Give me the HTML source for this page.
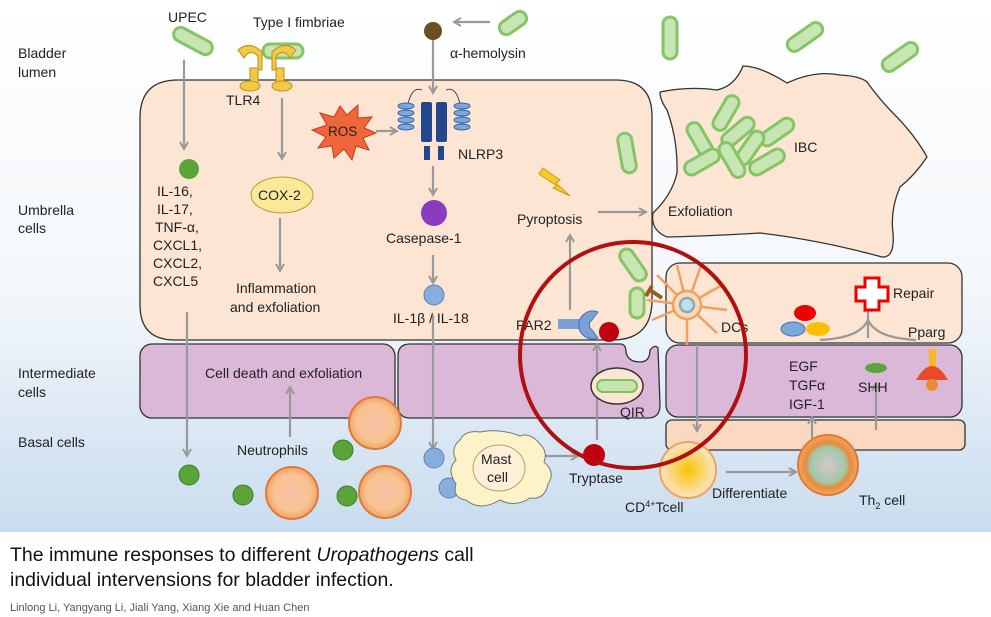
<!DOCTYPE html>
<html><head><meta charset="utf-8"><style>
body{margin:0;width:991px;height:617px;background:#fff;font-family:"Liberation Sans",sans-serif;overflow:hidden}
svg text{font-family:"Liberation Sans",sans-serif;fill:#222}
.cap{position:absolute;left:10px;top:543px;font-size:19.5px;line-height:25px;color:#111}
.auth{position:absolute;left:10px;top:602px;font-size:11px;color:#555}
</style></head><body>
<svg width="991" height="532" viewBox="0 0 991 532" style="position:absolute;left:0;top:0">
<defs>
<linearGradient id="bg" x1="0" y1="0" x2="0" y2="1"><stop offset="0" stop-color="#ffffff"/><stop offset="0.55" stop-color="#f3f7fb"/><stop offset="1" stop-color="#c9dcef"/></linearGradient>
<marker id="ar" markerWidth="10" markerHeight="10" refX="7" refY="5" orient="auto" markerUnits="userSpaceOnUse"><path d="M1,1 L8,5 L1,9" fill="none" stroke="#999" stroke-width="2"/></marker>
<radialGradient id="tc"><stop offset="0" stop-color="#f7c400"/><stop offset="0.6" stop-color="#fbd77a"/><stop offset="1" stop-color="#fce4c4"/></radialGradient>
<radialGradient id="th"><stop offset="0" stop-color="#d9c6c8"/><stop offset="0.6" stop-color="#9fc8a8"/><stop offset="0.75" stop-color="#e88a3a"/><stop offset="1" stop-color="#f2a860"/></radialGradient>
<radialGradient id="neu"><stop offset="0" stop-color="#f7c0a8"/><stop offset="0.7" stop-color="#f8c490"/><stop offset="1" stop-color="#f2a36a"/></radialGradient>
</defs>
<rect width="991" height="532" fill="url(#bg)"/>
<g font-size="14">
<text x="18" y="58">Bladder</text><text x="18" y="77">lumen</text>
<text x="18" y="215">Umbrella</text><text x="18" y="233">cells</text>
<text x="18" y="378">Intermediate</text><text x="18" y="397">cells</text>
<text x="18" y="447">Basal cells</text>
</g>
<path d="M178,80 L616,80 Q652,80 652,116 L652,200 L652,300 Q652,340 612,340 L175,340 Q140,340 140,305 L140,118 Q140,80 178,80Z" fill="#fde5d3" stroke="#333" stroke-width="1.3"/>
<path d="M660,92 Q690,86 717,90 Q735,86 743,66 Q760,66 787,83 Q815,70 840,75 Q860,76 867,82 Q880,100 893,113 Q915,135 927,157 Q915,175 900,187 Q890,210 893,233 Q895,258 882,257 Q820,240 760,233 Q710,236 667,237 Q650,230 653,213 Q672,195 677,173 Q678,140 667,110 Q660,100 660,92Z" fill="#fde5d3" stroke="#333" stroke-width="1.3"/>
<rect x="666" y="263" width="296" height="80" rx="14" fill="#fde5d3" stroke="#333" stroke-width="1.3"/>
<rect x="140" y="344" width="255" height="74" rx="12" fill="#dcb8d8" stroke="#333" stroke-width="1.3"/>
<path d="M410,344 L620,344 Q626,344 626,352 Q628,362 640,362 Q650,362 650,350 Q655,344 658,348 L660,405 Q660,418 648,418 L410,418 Q398,418 398,405 L398,356 Q398,344 410,344Z" fill="#dcb8d8" stroke="#333" stroke-width="1.3"/>
<rect x="666" y="345" width="296" height="72" rx="12" fill="#dcb8d8" stroke="#333" stroke-width="1.3"/>
<rect x="666" y="420" width="299" height="30" rx="6" fill="#fad9c0" stroke="#333" stroke-width="1.3"/>
<g fill="#c8e6b4" stroke="#86c466" stroke-width="3">
<rect x="172" y="34" width="42" height="14" rx="7" transform="rotate(28 193 41)"/>
<rect x="263" y="44" width="40" height="14" rx="7"/>
<rect x="498" y="16" width="30" height="14" rx="7" transform="rotate(-35 513 23)"/>
<rect x="649" y="31" width="42" height="14" rx="7" transform="rotate(90 670 38)"/>
<rect x="785" y="30" width="40" height="14" rx="7" transform="rotate(-35 805 37)"/>
<rect x="880" y="50" width="40" height="14" rx="7" transform="rotate(-35 900 57)"/>
<rect x="607" y="146" width="40" height="14" rx="7" transform="rotate(80 627 153)"/>
<rect x="707" y="106" width="38" height="14" rx="7" transform="rotate(-60 726 113)"/>
<rect x="681" y="133" width="38" height="14" rx="7" transform="rotate(60 700 140)"/>
<rect x="719" y="125" width="38" height="14" rx="7" transform="rotate(-40 738 132)"/>
<rect x="758" y="125" width="38" height="14" rx="7" transform="rotate(-35 777 132)"/>
<rect x="731" y="141" width="38" height="14" rx="7" transform="rotate(-55 750 148)"/>
<rect x="683" y="155" width="38" height="14" rx="7" transform="rotate(-30 702 162)"/>
<rect x="713" y="153" width="38" height="14" rx="7" transform="rotate(60 732 160)"/>
<rect x="748" y="155" width="38" height="14" rx="7" transform="rotate(-30 767 162)"/>
<rect x="615" y="258" width="36" height="14" rx="7" transform="rotate(55 633 265)"/>
<rect x="622" y="296" width="30" height="14" rx="7" transform="rotate(90 637 303)"/>
</g>
<g stroke="#999" stroke-width="2.2" fill="none" marker-end="url(#ar)">
<line x1="184" y1="60" x2="184" y2="148"/>
<line x1="282" y1="98" x2="282" y2="158"/>
<line x1="280" y1="218" x2="280" y2="270"/>
<line x1="490" y1="22" x2="455" y2="22"/>
<line x1="433" y1="32" x2="433" y2="92"/>
<line x1="376" y1="131" x2="396" y2="131"/>
<line x1="433" y1="166" x2="433" y2="194"/>
<line x1="433" y1="255" x2="433" y2="282"/>
<line x1="433" y1="315" x2="433" y2="448"/>
<line x1="187" y1="312" x2="187" y2="455"/>
<line x1="290" y1="437" x2="290" y2="388"/>
<line x1="598" y1="212" x2="645" y2="212"/>
<line x1="570" y1="310" x2="570" y2="236"/>
<line x1="597" y1="440" x2="597" y2="345"/>
<line x1="543" y1="456" x2="577" y2="456"/>
<line x1="697" y1="345" x2="697" y2="430"/>
<line x1="726" y1="472" x2="795" y2="472"/>
<line x1="812" y1="440" x2="812" y2="418"/>
<line x1="876" y1="430" x2="876" y2="385"/>
<line x1="868" y1="338" x2="868" y2="306"/>
</g>
<path d="M820,340 Q860,338 868,320 Q876,338 916,340" stroke="#999" stroke-width="2.2" fill="none"/>
<g fill="#f3c842" stroke="#b8901e">
<path d="M238,50 Q250,40 262,52 L262,70 L258,70 L258,56 Q250,48 244,58Z"/>
<path d="M296,50 Q284,40 272,52 L272,70 L276,70 L276,56 Q284,48 290,58Z"/>
<rect x="250" y="68" width="8" height="16"/><rect x="276" y="68" width="8" height="16"/>
<ellipse cx="250" cy="86" rx="10" ry="5"/><ellipse cx="282" cy="86" rx="10" ry="5"/>
</g>
<circle cx="433" cy="31" r="9" fill="#6b4e22"/>
<g>
<path d="M408,104 Q412,86 422,90 M446,90 Q456,86 460,104" stroke="#446" fill="none"/>
<rect x="421" y="102" width="11" height="40" rx="2" fill="#23468c"/><rect x="436" y="102" width="11" height="40" rx="2" fill="#23468c"/>
<rect x="424" y="146" width="6" height="14" fill="#23468c"/><rect x="438" y="146" width="6" height="14" fill="#23468c"/>
<g fill="#7aa7dc" stroke="#3a64a8"><ellipse cx="406" cy="106" rx="8" ry="3"/><ellipse cx="406" cy="113" rx="8" ry="3"/><ellipse cx="406" cy="120" rx="8" ry="3"/><ellipse cx="406" cy="127" rx="8" ry="3"/>
<ellipse cx="462" cy="106" rx="8" ry="3"/><ellipse cx="462" cy="113" rx="8" ry="3"/><ellipse cx="462" cy="120" rx="8" ry="3"/><ellipse cx="462" cy="127" rx="8" ry="3"/></g>
</g>
<polygon points="340,106 347,115 358,105 358,118 372,117 364,128 376,133 363,138 369,150 356,146 352,160 344,149 334,158 332,146 318,148 326,137 312,130 327,125 320,113 334,117" fill="#f0653a" stroke="#c23b1a"/>
<text x="328" y="136" font-size="13.5">ROS</text>
<circle cx="189" cy="169" r="10" fill="#5aa53a"/>
<ellipse cx="282" cy="195" rx="31" ry="18" fill="#fbe99a" stroke="#b99b2a"/>
<text x="258" y="200" font-size="14">COX-2</text>
<circle cx="434" cy="213" r="13" fill="#8a3cc0"/>
<circle cx="434" cy="295" r="10" fill="#88aedd" stroke="#5a82b8"/>
<polygon points="543,168 560,180 556,183 570,196 553,188 557,186 539,174" fill="#f5c92a" stroke="#c99c10"/>
<g><rect x="558" y="319" width="26" height="10" fill="#7aa0d8"/><path d="M598,312 A14,14 0 1 0 598,338 L592,330 A6,6 0 0 1 592,320Z" fill="#7aa0d8" stroke="#4a6fa8"/></g>
<circle cx="609" cy="332" r="10" fill="#c00010"/>
<circle cx="594" cy="455" r="11" fill="#c00010"/>
<g><ellipse cx="617" cy="386" rx="26" ry="18" fill="#fde5d3" stroke="#333" stroke-width="1.5"/><rect x="597" y="380" width="40" height="12" rx="6" fill="#c6e4ad" stroke="#7ec05a" stroke-width="2"/></g>
<g stroke="#f0a060" stroke-width="2.5" fill="none">
<path d="M687,305 l-30,-30 M687,305 l-10,-40 M687,305 l15,-42 M687,305 l35,-20 M687,305 l40,5 M687,305 l30,28 M687,305 l0,40 M687,305 l-35,15 M687,305 l-40,-5"/>
<circle cx="687" cy="305" r="14" fill="#fbd9b8"/><circle cx="687" cy="305" r="7" fill="#bfe0e6" stroke="#8ab"/>
</g>
<path d="M650,290 L662,298 M652,286 L646,296" stroke="#9a5a20" stroke-width="4"/>
<g><ellipse cx="805" cy="313" rx="11" ry="8" fill="#e00"/><ellipse cx="793" cy="329" rx="12" ry="7" fill="#7aa7dc" stroke="#4a6fa8"/><ellipse cx="818" cy="329" rx="12" ry="7" fill="#ffc000"/></g>
<path d="M865,278 h14 v9 h9 v14 h-9 v9 h-14 v-9 h-9 v-14 h9z" fill="#fff" stroke="#e00" stroke-width="3"/>
<ellipse cx="876" cy="368" rx="11" ry="5" fill="#5aa53a"/>
<g><rect x="929" y="349" width="7" height="18" fill="#f5b82a"/><path d="M916,380 Q932,352 948,380Z" fill="#e84a2a"/><circle cx="932" cy="385" r="6" fill="#ee8a30"/></g>
<g stroke="#e07a3a" stroke-width="2"><circle cx="292" cy="493" r="26" fill="url(#neu)"/><circle cx="375" cy="423" r="26" fill="url(#neu)"/><circle cx="385" cy="492" r="26" fill="url(#neu)"/></g>
<g><circle cx="189" cy="475" r="10" fill="#5aa53a" stroke="#3d7d28"/><circle cx="243" cy="495" r="10" fill="#5aa53a" stroke="#3d7d28"/><circle cx="347" cy="496" r="10" fill="#5aa53a" stroke="#3d7d28"/><circle cx="343" cy="450" r="10" fill="#5aa53a" stroke="#3d7d28"/><circle cx="434" cy="458" r="10" fill="#88aedd" stroke="#5a82b8"/><circle cx="449" cy="488" r="10" fill="#88aedd" stroke="#5a82b8"/></g>
<path d="M460,440 Q465,430 480,432 Q500,428 520,436 Q530,432 540,444 Q548,452 544,462 Q556,472 548,484 Q545,500 530,498 Q515,508 500,500 Q480,512 466,500 Q452,498 456,484 Q446,470 456,460 Q450,448 460,440Z" fill="#fdf3c8" stroke="#777"/>
<ellipse cx="499" cy="468" rx="26" ry="23" fill="#fdf0d8" stroke="#b9a060"/>
<circle cx="688" cy="470" r="28" fill="url(#tc)" stroke="#f0a060" stroke-width="2"/>
<circle cx="828" cy="465" r="30" fill="url(#th)" stroke="#e07a3a" stroke-width="2"/>
<g font-size="14">
<text x="168" y="22">UPEC</text>
<text x="253" y="27">Type I fimbriae</text>
<text x="450" y="58">α-hemolysin</text>
<text x="226" y="105">TLR4</text>
<text x="458" y="159">NLRP3</text>
<text x="157" y="196">IL-16,</text><text x="157" y="214">IL-17,</text><text x="155" y="232">TNF-α,</text><text x="153" y="250">CXCL1,</text><text x="153" y="268">CXCL2,</text><text x="153" y="286">CXCL5</text>
<text x="386" y="243">Casepase-1</text>
<text x="236" y="293">Inflammation</text><text x="230" y="312">and exfoliation</text>
<text x="393" y="323">IL-1β / IL-18</text>
<text x="517" y="224">Pyroptosis</text>
<text x="668" y="216">Exfoliation</text>
<text x="794" y="152">IBC</text>
<text x="893" y="298">Repair</text>
<text x="908" y="337">Pparg</text>
<text x="516" y="330">PAR2</text>
<text x="721" y="332">DCs</text>
<text x="205" y="378">Cell death and exfoliation</text>
<text x="789" y="371">EGF</text><text x="789" y="390">TGFα</text><text x="789" y="409">IGF-1</text>
<text x="858" y="392">SHH</text>
<text x="620" y="417">QIR</text>
<text x="237" y="455">Neutrophils</text>
<text x="481" y="464">Mast</text><text x="487" y="482">cell</text>
<text x="569" y="483">Tryptase</text>
<text x="625" y="512">CD<tspan font-size="9" dy="-5">4+</tspan><tspan dy="5">Tcell</tspan></text>
<text x="712" y="498">Differentiate</text>
<text x="859" y="505">Th<tspan font-size="9" dy="4">2</tspan><tspan dy="-4"> cell</tspan></text>
</g>
<circle cx="633" cy="355" r="113" fill="none" stroke="#b01010" stroke-width="4"/>
</svg>
<div class="cap">The immune responses to different <i>Uropathogens</i> call<br>individual intervensions for bladder infection.</div>
<div class="auth">Linlong Li, Yangyang Li, Jiali Yang, Xiang Xie and Huan Chen</div>
</body></html>
